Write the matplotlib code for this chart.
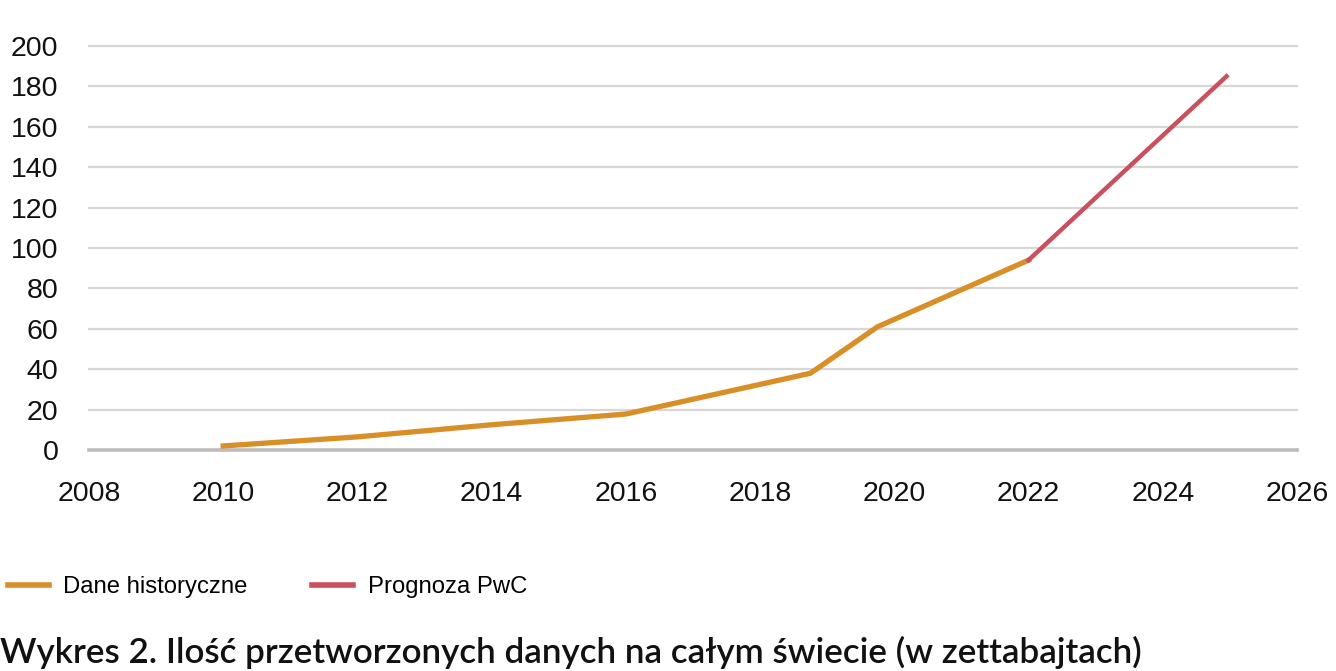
import matplotlib.pyplot as plt
from matplotlib.lines import Line2D

# historical data (zettabytes) and PwC forecast
hist_years = [2010, 2012, 2014, 2016, 2018.75, 2019.75, 2022]
hist_values = [2, 6.5, 12.5, 17.8, 38, 61, 94]
fcst_years = [2022, 2024.95]
fcst_values = [94, 185]

x_ticks = [2008, 2010, 2012, 2014, 2016, 2018, 2020, 2022, 2024, 2026]
y_ticks = [0, 20, 40, 60, 80, 100, 120, 140, 160, 180, 200]

series_labels = ["Dane historyczne", "Prognoza PwC"]
title = "Wykres 2. Ilość przetworzonych danych na całym świecie (w zettabajtach)"

ORANGE = "#D98F28"
RED = "#C8505F"

tick_font = ["Liberation Sans", "DejaVu Sans"]

W, H, DPI = 1336, 671, 100
fig = plt.figure(figsize=(W / DPI, H / DPI), dpi=DPI)
ax = fig.add_axes([89 / W, 1 - 450 / H, (1297 - 89) / W, (450 - 46) / H])

ax.plot(hist_years, hist_values, color=ORANGE, lw=3.8, solid_joinstyle="miter", zorder=3)
ax.plot(fcst_years, fcst_values, color=RED, lw=3.2, zorder=3)

ax.set_xlim(2008, 2026)
ax.set_ylim(0, 200)
ax.set_xticks(x_ticks)
ax.set_yticks(y_ticks)
for t in y_ticks[1:]:
    ax.axhline(t, color="#d9d6d6", lw=1.6, zorder=1, clip_on=False)
ax.axhline(0, color="#bdbbbb", lw=2.6, zorder=2, clip_on=False)

for s in ax.spines.values():
    s.set_visible(False)
ax.tick_params(length=0, labelsize=20.5, colors="#111111")
ax.tick_params(axis="y", pad=22)
ax.tick_params(axis="x", pad=22)
for lab in ax.get_xticklabels() + ax.get_yticklabels():
    lab.set_family(tick_font)

handles = [Line2D([], [], color=ORANGE, lw=4), Line2D([], [], color=RED, lw=4)]
fig.legend(handles, series_labels, loc="center left", bbox_to_anchor=(8 / W, 1 - 587 / H),
           ncol=2, frameon=False, borderpad=0, borderaxespad=0,
           handlelength=1.7, handletextpad=0.62, columnspacing=2.7,
           prop={"family": tick_font, "size": 17.2})

fig.text(0 / W, 1 - 652 / H, title, ha="left", va="center", fontsize=25.2,
         family=["Lato", "DejaVu Sans"], fontweight="semibold", color="#111111")

fig.savefig("out.png", dpi=DPI, facecolor="white")
